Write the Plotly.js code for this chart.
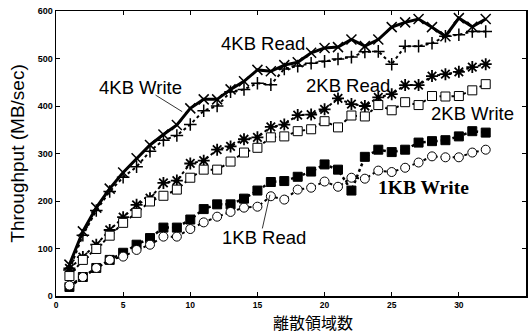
<!DOCTYPE html>
<html>
<head>
<meta charset="utf-8">
<script src="https://cdn.plot.ly/plotly-3.0.1.min.js"></script>
<style>html,body{margin:0;padding:0;background:#fff;}#chart{width:529px;height:335px;}</style>
</head>
<body>
<div id="chart"></div>
<script>
const regions = [1,2,3,4,5,6,7,8,9,10,11,12,13,14,15,16,17,18,19,20,21,22,23,24,25,26,27,28,29,30,31,32];
const read4KB  = [66,136,186,226,260,290,318,340,360,395,414,414,435,452,476,473,486,492,512,522,524,540,526,540,566,576,583,566,547,585,567,583];
const write4KB = [55,128,180,220,250,272,305,328,338,361,390,400,430,435,448,445,478,484,490,494,499,503,514,515,488,526,526,532,547,550,557,557];
const read2KB  = [58,82,108,139,166,192,206,238,243,279,285,308,315,330,334,356,361,381,382,393,416,404,400,418,425,444,444,463,467,472,482,488];
const write2KB = [42,76,99,127,154,175,199,211,224,249,266,266,283,302,312,334,336,347,351,368,355,380,378,402,391,408,402,421,420,421,433,446];
const read1KB  = [19,40,59,76,91,108,122,144,144,161,183,193,193,205,222,240,242,251,262,277,266,222,293,308,303,308,323,326,328,336,347,344];
const write1KB = [22,40,59,76,83,97,108,125,125,141,155,167,177,186,188,210,203,224,228,241,230,249,247,264,261,270,281,294,292,292,302,308];
const xTicks = [0,5,10,15,20,25,30,35];
const yTicks = [0,100,200,300,400,500,600];

const traces = [
  {x: regions, y: read4KB, mode: 'lines+markers', name: '4KB Read',
   line: {color: '#000', width: 3},
   marker: {symbol: 'x-thin-open', size: 10, color: '#000', line: {color: '#000', width: 1.5}}},
  {x: regions, y: write4KB, mode: 'lines+markers', name: '4KB Write',
   line: {color: '#000', width: 2, dash: 'dot'},
   marker: {symbol: 'cross-thin-open', size: 9, color: '#000', line: {color: '#000', width: 1.5}}},
  {x: regions, y: read2KB, mode: 'lines+markers', name: '2KB Read',
   line: {color: '#000', width: 2, dash: 'dot'},
   marker: {symbol: 'asterisk-open', size: 10, color: '#000', line: {color: '#000', width: 1.8}}},
  {x: regions, y: write2KB, mode: 'lines+markers', name: '2KB Write',
   line: {color: '#000', width: 2, dash: 'dot'},
   marker: {symbol: 'square', size: 9, color: '#fff', line: {color: '#000', width: 1}}},
  {x: regions, y: read1KB, mode: 'lines+markers', name: '1KB Read',
   line: {color: '#000', width: 2.5, dash: 'dot'},
   marker: {symbol: 'square', size: 9, color: '#000', line: {color: '#000', width: 1}}},
  {x: regions, y: write1KB, mode: 'lines+markers', name: '1KB Write',
   line: {color: '#000', width: 2, dash: 'dot'},
   marker: {symbol: 'circle', size: 9, color: '#fff', line: {color: '#000', width: 1}}}
];

const sans = 'Liberation Sans, Arial, sans-serif';
const lab = {family: sans, size: 18.5, color: '#000'};
const layout = {
  width: 529, height: 335,
  margin: {l: 56, r: 3, t: 11, b: 39, pad: 0},
  paper_bgcolor: '#fff', plot_bgcolor: '#fff',
  showlegend: false,
  xaxis: {
    range: [0, 35], tickvals: xTicks, ticktext: xTicks.map(String),
    showline: true, mirror: 'ticks', linecolor: '#000', linewidth: 1.5,
    ticks: 'inside', ticklen: 4, tickcolor: '#000', showgrid: false, zeroline: false,
    ticklabelstandoff: 0,
    tickfont: {family: sans, size: 8.5, color: '#000', weight: 'bold'}
  },
  yaxis: {
    range: [0, 600], tickvals: yTicks, ticktext: yTicks.map(String),
    showline: true, mirror: 'ticks', linecolor: '#000', linewidth: 1.5,
    ticks: 'inside', ticklen: 4, tickcolor: '#000', showgrid: false, zeroline: false,
    tickfont: {family: sans, size: 9, color: '#000', weight: 'bold'},
    title: {text: 'Throughput (MB/sec)', font: {family: sans, size: 19, color: '#000'}, standoff: 8}
  },
  annotations: [
    {x: 15.45, y: 532, xref: 'x', yref: 'y', text: '4KB Read', showarrow: false, font: lab},
    {x: 9.4, y: 388, xref: 'x', yref: 'y', ax: 7.3, ay: 425, axref: 'x', ayref: 'y', text: '', showarrow: true, arrowhead: 0, arrowwidth: 0.8, arrowcolor: '#000'},
    {x: 6.29, y: 440, xref: 'x', yref: 'y', text: '4KB Write', showarrow: false, font: lab},
    {x: 21.78, y: 444, xref: 'x', yref: 'y', text: '2KB Read', showarrow: false, font: lab},
    {x: 31.05, y: 385, xref: 'x', yref: 'y', text: '2KB Write', showarrow: false, font: lab},
    {x: 27.4, y: 229, xref: 'x', yref: 'y', text: '1KB Write', showarrow: false, font: {family: 'Liberation Serif, Times New Roman, serif', size: 19.5, color: '#000', weight: 'bold'}},
    {x: 15.93, y: 213, xref: 'x', yref: 'y', ax: 15.34, ay: 139, axref: 'x', ayref: 'y', text: '', showarrow: true, arrowhead: 0, arrowwidth: 0.8, arrowcolor: '#000'},
    {x: 15.52, y: 124, xref: 'x', yref: 'y', text: '1KB Read', showarrow: false, font: lab},
    {x: (313 - 56) / 470, y: -(322 - 296) / 285, xref: 'paper', yref: 'paper', yanchor: 'middle', text: '離散領域数', showarrow: false, borderpad: 0,
     font: {family: 'Noto Sans CJK JP, sans-serif', size: 16, color: '#000'}}
  ]
};

Plotly.newPlot('chart', traces, layout, {staticPlot: true, displayModeBar: false});
</script>
</body>
</html>
